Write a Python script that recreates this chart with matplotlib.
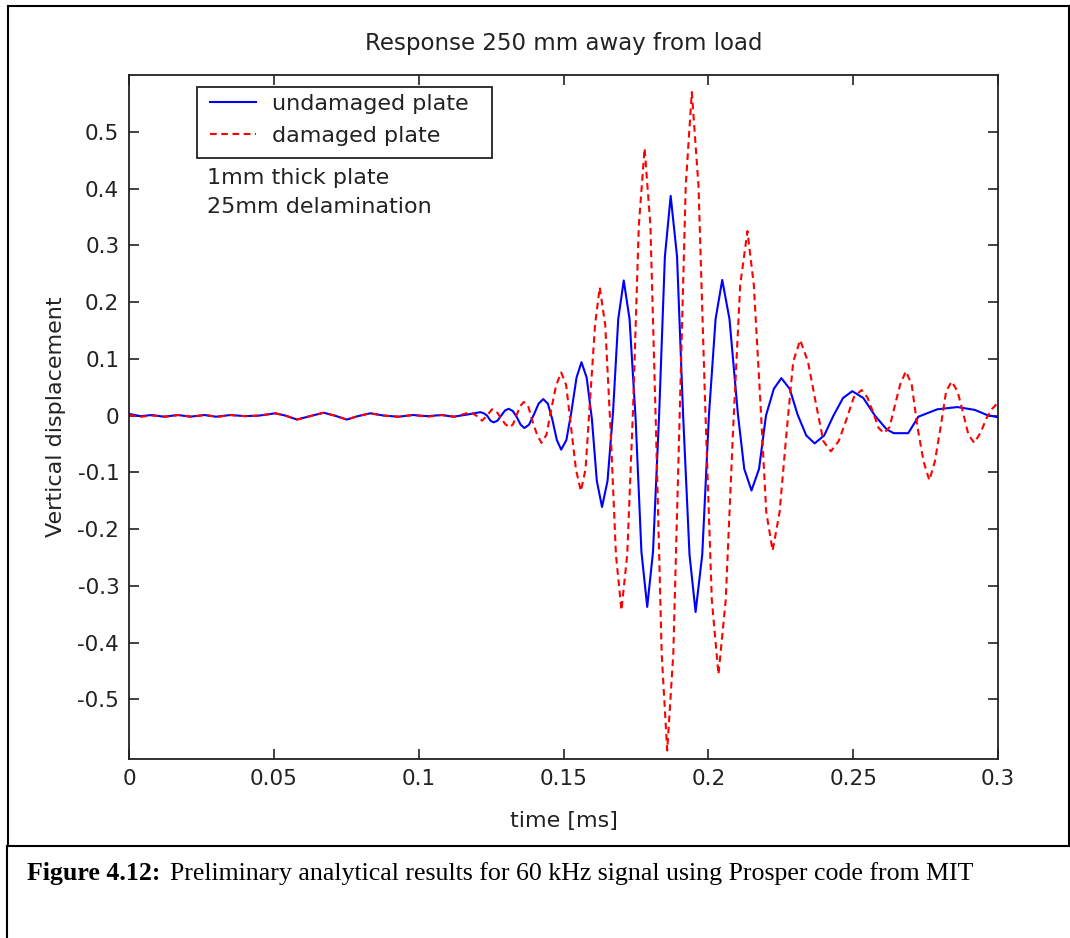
import matplotlib
matplotlib.use('Agg')
import matplotlib.pyplot as plt
from matplotlib.lines import Line2D
from matplotlib.patches import Rectangle

# values (time in ms, displacement)
t_undamaged = [0.000, 0.004, 0.008, 0.012, 0.017, 0.021, 0.026, 0.030, 0.035, 0.040,
               0.045, 0.0505, 0.054, 0.058, 0.0625, 0.0672, 0.071, 0.0752, 0.079, 0.0833,
               0.088, 0.093, 0.098, 0.103, 0.108, 0.112, 0.117, 0.1213, 0.1225, 0.1236,
               0.1248, 0.1259, 0.1272, 0.1285, 0.1298, 0.1311, 0.1325, 0.1338, 0.1352, 0.1365,
               0.1381, 0.1398, 0.1414, 0.1430, 0.1446, 0.1461, 0.1477, 0.1492, 0.1510, 0.1527,
               0.1545, 0.1562, 0.1580, 0.1598, 0.1615, 0.1633, 0.1652, 0.1671, 0.1689, 0.1708,
               0.1728, 0.1749, 0.1769, 0.1789, 0.1809, 0.1830, 0.1850, 0.1870, 0.1892, 0.1913,
               0.1935, 0.1956, 0.1979, 0.2002, 0.2025, 0.2048, 0.2073, 0.2102, 0.2124, 0.2149,
               0.2175, 0.2199, 0.2226, 0.2252, 0.2281, 0.2308, 0.2338, 0.2367, 0.2400, 0.2432,
               0.2465, 0.2497, 0.2535, 0.2575, 0.2615, 0.2640, 0.2690, 0.2725, 0.2790, 0.2860,
               0.2920, 0.2962, 0.3000]
y_undamaged = [0.003, -0.001, 0.001, -0.002, 0.001, -0.002, 0.001, -0.002, 0.001, -0.001,
               0.000, 0.004, 0.000, -0.007, -0.001, 0.005, 0.000, -0.007, -0.001, 0.004,
               0.000, -0.002, 0.001, -0.001, 0.001, -0.002, 0.002, 0.006, 0.004, 0.000,
               -0.009, -0.012, -0.009, 0.000, 0.009, 0.012, 0.008, -0.002, -0.016, -0.022,
               -0.016, 0.002, 0.021, 0.029, 0.021, -0.006, -0.043, -0.060, -0.043, 0.006,
               0.067, 0.094, 0.067, -0.006, -0.115, -0.161, -0.115, 0.006, 0.170, 0.238,
               0.170, -0.006, -0.240, -0.337, -0.240, 0.000, 0.280, 0.387, 0.280, 0.000,
               -0.245, -0.346, -0.245, 0.000, 0.170, 0.239, 0.170, 0.003, -0.094, -0.132,
               -0.094, 0.000, 0.047, 0.066, 0.047, 0.002, -0.035, -0.049, -0.035, 0.000,
               0.031, 0.043, 0.031, 0.000, -0.024, -0.031, -0.031, -0.002, 0.011, 0.015,
               0.010, 0.001, -0.003]

t_damaged = [0.000, 0.004, 0.008, 0.013, 0.017, 0.022, 0.026, 0.031, 0.035, 0.040,
             0.045, 0.0505, 0.054, 0.058, 0.0625, 0.0672, 0.071, 0.0752, 0.079, 0.0833,
             0.088, 0.093, 0.098, 0.103, 0.108, 0.1125, 0.1178, 0.1199, 0.1219, 0.1236,
             0.1253, 0.1268, 0.1283, 0.1299, 0.1314, 0.1326, 0.1339, 0.1351, 0.1363, 0.1378,
             0.1393, 0.1409, 0.1424, 0.1441, 0.1458, 0.1475, 0.1492, 0.1509, 0.1526, 0.1543,
             0.1560, 0.1576, 0.1592, 0.1609, 0.1625, 0.1644, 0.1663, 0.1681, 0.1700, 0.1720,
             0.1740, 0.1760, 0.1780, 0.1800, 0.1819, 0.1839, 0.1858, 0.1879, 0.1901, 0.1922,
             0.1943, 0.1966, 0.1989, 0.2012, 0.2035, 0.2060, 0.2085, 0.2110, 0.2135, 0.2157,
             0.2179, 0.2200, 0.2222, 0.2246, 0.2270, 0.2293, 0.2317, 0.2344, 0.2370, 0.2397,
             0.2423, 0.2450, 0.2476, 0.2502, 0.2529, 0.2549, 0.2568, 0.2588, 0.2607, 0.2626,
             0.2645, 0.2663, 0.2682, 0.2702, 0.2722, 0.2743, 0.2763, 0.2782, 0.2802, 0.2821,
             0.2840, 0.2860, 0.2879, 0.2898, 0.2918, 0.2940, 0.2960, 0.2980, 0.3000]
y_damaged = [0.001, -0.002, 0.000, -0.002, 0.001, -0.002, 0.001, -0.002, 0.001, -0.001,
             0.000, 0.004, 0.000, -0.007, -0.001, 0.005, 0.000, -0.007, -0.001, 0.004,
             0.000, -0.002, 0.001, -0.002, 0.001, -0.002, 0.006, 0.000, -0.009, 0.000,
             0.011, 0.008, -0.004, -0.015, -0.021, -0.015, 0.002, 0.017, 0.024, 0.017,
             -0.010, -0.034, -0.048, -0.034, 0.012, 0.054, 0.076, 0.054, -0.020, -0.095,
             -0.133, -0.095, 0.030, 0.160, 0.226, 0.160, -0.030, -0.245, -0.343, -0.245,
             0.010, 0.335, 0.471, 0.335, -0.020, -0.420, -0.590, -0.420, 0.000, 0.405,
             0.570, 0.405, 0.020, -0.325, -0.456, -0.325, -0.030, 0.230, 0.325, 0.230,
             0.030, -0.170, -0.238, -0.170, -0.030, 0.095, 0.133, 0.095, 0.025, -0.045,
             -0.063, -0.045, -0.008, 0.032, 0.045, 0.032, 0.007, -0.022, -0.031, -0.020,
             0.020, 0.056, 0.078, 0.055, -0.020, -0.081, -0.114, -0.081, -0.020, 0.043,
             0.060, 0.043, 0.006, -0.034, -0.048, -0.030, -0.005, 0.012, 0.023]

x_ticks = [0, 0.05, 0.1, 0.15, 0.2, 0.25, 0.3]
x_tick_labels = ['0', '0.05', '0.1', '0.15', '0.2', '0.25', '0.3']
y_ticks = [-0.5, -0.4, -0.3, -0.2, -0.1, 0, 0.1, 0.2, 0.3, 0.4, 0.5]
y_tick_labels = ['-0.5', '-0.4', '-0.3', '-0.2', '-0.1', '0', '0.1', '0.2', '0.3', '0.4', '0.5']

plt.rcParams['font.family'] = 'DejaVu Sans'

W, H = 1070, 938
fig = plt.figure(figsize=(W / 100, H / 100), dpi=100)
fig.patch.set_facecolor('white')

# axes box in pixel terms of the reference
ax = fig.add_axes([129 / W, 1 - 759 / H, (998 - 129) / W, (759 - 75) / H])

ax.plot(t_undamaged, y_undamaged, color='#0000ff', lw=1.5, label='undamaged plate')
ax.plot(t_damaged, y_damaged, color='#ff0000', lw=1.5, linestyle=(0, (3.2, 2.2)),
        label='damaged plate')

ax.set_xlim(0, 0.3)
ax.set_ylim(-0.605, 0.6)
ax.set_xticks(x_ticks)
ax.set_xticklabels(x_tick_labels)
ax.set_yticks(y_ticks)
ax.set_yticklabels(y_tick_labels)
ax.tick_params(direction='in', length=7.5, width=1.2, top=True, right=True,
               labelsize=15.5, colors='#222222', pad=7)
for s in ax.spines.values():
    s.set_linewidth(1.3)
    s.set_color('#222222')

ax.set_title('Response 250 mm away from load', fontsize=16.5, pad=18, color='#222222')
ax.set_xlabel('time [ms]', fontsize=16, labelpad=16, color='#222222')
ax.set_ylabel('Vertical displacement', fontsize=16, labelpad=8, color='#222222')

def axfrac(px, py):
    return (px - 129) / 869, (759 - py) / 684

# legend drawn without frame, box added at the reference position
leg = ax.legend(loc='upper left', bbox_to_anchor=axfrac(202, 86),
                borderaxespad=0, fontsize=16, frameon=False,
                handlelength=2.1, handletextpad=0.7, labelspacing=0.55,
                borderpad=0.35)
for txt in leg.get_texts():
    txt.set_color('#222222')
bx0, by0 = axfrac(197, 158)
bx1, by1 = axfrac(492, 87)
ax.add_patch(Rectangle((bx0, by0), bx1 - bx0, by1 - by0, transform=ax.transAxes,
                       fill=False, edgecolor='#222222', lw=1.3, zorder=5))

ax.text(*axfrac(207, 178), '1mm thick plate', transform=ax.transAxes,
        fontsize=16, va='center', color='#222222')
ax.text(*axfrac(207, 207), '25mm delamination', transform=ax.transAxes,
        fontsize=16, va='center', color='#222222')

# page borders around figure and caption
def fline(x0, y0, x1, y1):
    fig.add_artist(Line2D([x0 / W, x1 / W], [1 - y0 / H, 1 - y1 / H], color='black', lw=1.5,
                          transform=fig.transFigure))

fline(8, 6, 1069, 6)
fline(8, 6, 8, 846)
fline(1069, 6, 1069, 846)
fline(7, 846, 1070, 846)
fline(7, 846, 7, 938)

cap1 = fig.text(27 / W, 1 - 880 / H, 'Figure 4.12:', fontsize=18.6, fontweight='bold',
                family='Liberation Serif', va='baseline')
fig.canvas.draw()
bb = cap1.get_window_extent(fig.canvas.get_renderer())
fig.text((bb.x1 + 10) / W, 1 - 880 / H,
         'Preliminary analytical results for 60 kHz signal using Prosper code from MIT',
         fontsize=18.6, family='Liberation Serif', va='baseline')

fig.savefig('out.png', dpi=100, facecolor='white')
